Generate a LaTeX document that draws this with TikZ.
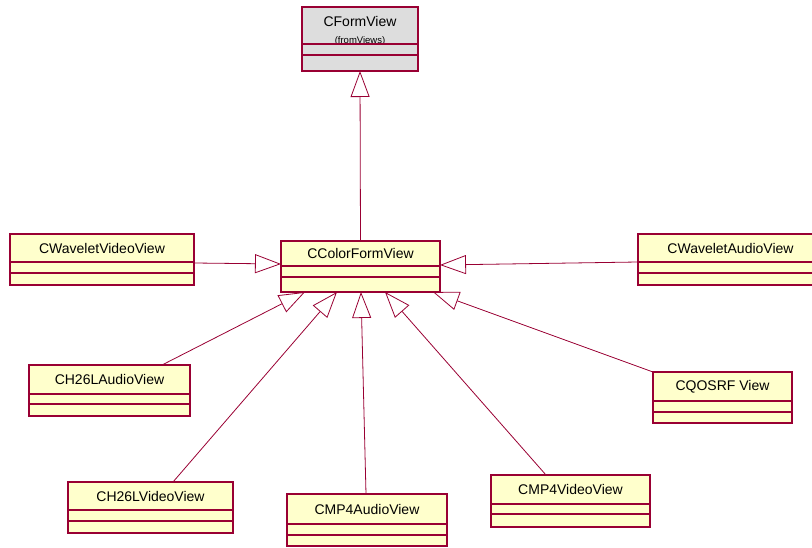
\documentclass[tikz,border=0pt]{standalone}
\usepackage{fontspec}
\setmainfont{Liberation Sans}
\usetikzlibrary{arrows.meta,calc}
\definecolor{umlred}{RGB}{153,0,51}
\definecolor{umlfill}{RGB}{255,255,204}
\definecolor{umlgray}{RGB}{221,221,221}
\tikzset{
  classbox/.style={rectangle, draw=umlred, line width=1.2pt, fill=umlfill, inner sep=0pt, outer sep=0pt},
  classname/.style={font=\fontsize{14}{16}\selectfont, inner sep=0pt},
  compline/.style={draw=umlred, line width=1.2pt},
  inherit/.style={draw=umlred, line width=0.8pt, -{Triangle[open, length=26pt, width=19pt]}}
}
\begin{document}
\begin{tikzpicture}[x=1pt, y=-1pt]
    \useasboundingbox (0,0) rectangle (812,548);
    % Base class
    \node[classbox, fill=umlgray, minimum width=116pt, minimum height=64pt] (formview) at (360,39) {};
    \node[classname] (formview-name) at (360,21) {CFormView};
    \node[font=\fontsize{9.5}{11}\selectfont, inner sep=0pt] (formview-pkg) at (360,41) {(fromViews)};
    \draw[compline] (formview.west |- 0,44) -- (formview.east |- 0,44);
    \draw[compline] (formview.west |- 0,55) -- (formview.east |- 0,55);
    % Classes
    \foreach \id/\lx/\ty/\rx/\by/\sa/\sb/\cname in {
        color/281/241/440/292/266/277/CColorFormView,
        wvideo/10/234/194/285/262/273/CWaveletVideoView,
        waudio/638/234/823/285/262/273/CWaveletAudioView,
        h26la/29/365/190/416/394/404/CH26LAudioView,
        qosrf/653/372/792/423/401/412/CQOSRF View,
        h26lv/68/482/233/533/510/521/CH26LVideoView,
        mp4a/287/494/447/546/524/535/CMP4AudioView,
        mp4v/491/475/650/527/504/514/CMP4VideoView}
    {
        \node[classbox, minimum width={(\rx-\lx)*1pt}, minimum height={(\by-\ty)*1pt}] (\id) at ({(\lx+\rx)/2},{(\ty+\by)/2}) {};
        \node[classname] (\id-name) at ({(\lx+\rx)/2},{(\ty+\sa)/2}) {\cname};
        \draw[compline] (\id.west |- 0,\sa) -- (\id.east |- 0,\sa);
        \draw[compline] (\id.west |- 0,\sb) -- (\id.east |- 0,\sb);
    }
    % Generalisations
    \draw[inherit] (color.north) -- (formview.south);
    \draw[inherit] ($(wvideo.east)+(0,3.5)$) -- ($(color.west)+(0,-2.5)$);
    \draw[inherit] ($(waudio.west)+(0,2.5)$) -- ($(color.east)+(0,-1.5)$);
    \foreach \id/\dx/\tx in {h26la/133/24, h26lv/105/56, mp4a/79/80, mp4v/55/104, qosrf/0/152}
        \draw[inherit] ($(\id.north west)+(\dx,0)$) -- ($(color.south west)+(\tx,0)$);
\end{tikzpicture}
\end{document}
